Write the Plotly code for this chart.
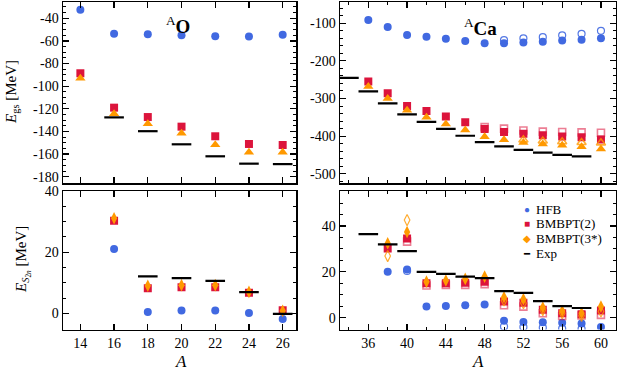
import plotly.graph_objects as go

FONT = "Liberation Serif, DejaVu Serif, Times New Roman, serif"
BLUE = "#4169E1"
RED = "#DC143C"
ORANGE = "#FF9900"
RED_OPEN = "rgba(220,20,60,0.55)"
BLUE_OPEN = "rgba(65,105,225,0.9)"
ORANGE_OPEN = "rgba(255,153,0,0.8)"

# ---------------- Oxygen ----------------
A_O = [14, 16, 18, 20, 22, 24, 26]
O_egs_hfb = [-32.4, -53.6, -54.2, -55.0, -55.9, -56.2, -54.5]
O_egs_b2 = [-88.6, -119.0, -127.3, -135.8, -144.3, -151.1, -152.0]
O_egs_b3 = [-93.0, -124.4, -133.2, -141.7, -151.7, -158.5, -158.5]
A_O_exp = [16, 18, 20, 22, 24, 26]
O_egs_exp = [-127.6, -139.8, -151.4, -162.0, -168.5, -168.9]

A_O_s2n = [16, 18, 20, 22, 24, 26]
O_s2n_hfb = [21.0, 0.4, 0.9, 0.9, 0.1, -1.9]
O_s2n_b2 = [30.3, 8.2, 8.5, 8.5, 6.7, 1.0]
O_s2n_b3 = [31.1, 9.0, 9.2, 9.2, 7.0, 0.8]
A_O_s2n_exp = [18, 20, 22, 24, 26]
O_s2n_exp = [12.1, 11.5, 10.6, 6.9, -0.2]

# ---------------- Calcium ----------------
A_Ca = [36, 38, 40, 42, 44, 46, 48, 50, 52, 54, 56, 58, 60]
Ca_egs_hfb = [-91, -110, -131, -136, -141, -147, -153, -153, -151, -149, -146, -144, -140]
A_Ca_hfb_open = [50, 52, 54, 56, 58, 60]
Ca_egs_hfb_open = [-145, -140, -137, -132, -128, -120]
Ca_egs_b2 = [-255, -286, -320, -333, -348, -363, -381, -389, -394, -398, -401, -403, -409]
A_Ca_b2_open = [48, 50, 52, 54, 56, 58, 60]
Ca_egs_b2_open = [-376, -380, -385, -388, -389, -390, -391]
Ca_egs_b3 = [-268, -300, -331, -350, -368, -384, -402, -410, -417, -421, -424, -428, -434]
A_Ca_b3_open = [52, 54, 56, 58, 60]
Ca_egs_b3_open = [-410, -413, -415, -417, -418]
A_Ca_exp = [34, 36, 38, 40, 42, 44, 46, 48, 50, 52, 54, 56, 58]
Ca_egs_exp = [-245, -281, -313, -342, -362, -381, -399, -416, -427.5, -436.6, -444, -450, -454]

A_Ca_s2n = [38, 40, 42, 44, 46, 48, 50, 52, 54, 56, 58, 60]
Ca_s2n_hfb = [20.0, 21.0, 4.8, 5.1, 5.4, 5.7, -1.4, -1.9, -2.0, -2.3, -2.6, -4.1]
A_Ca_s2n_hfb_open = [40, 50, 52, 54, 56, 58]
Ca_s2n_hfb_open = [20.4, -3.9, -4.1, -4.4, -4.8, -4.9]
Ca_s2n_b2 = [30.2, 34.6, 15.0, 15.0, 15.2, 15.7, 7.0, 6.5, 3.4, 1.9, 1.5, 3.1]
A_Ca_s2n_b2_open = [40, 42, 44, 46, 48, 50, 52, 54, 56, 58, 60]
Ca_s2n_b2_open = [33.2, 14.0, 14.3, 14.3, 14.6, 5.4, 4.8, 1.9, 0.7, 0.9, 1.2]
Ca_s2n_b3 = [32.5, 37.4, 15.7, 16.2, 16.9, 17.9, 8.9, 8.0, 4.4, 2.9, 1.9, 4.8]
A_Ca_s2n_b3_open = [38, 40, 50, 52, 54, 56, 58, 60]
Ca_s2n_b3_open = [26.9, 42.6, 7.5, 6.3, 3.3, 1.9, 0.8, 2.7]
A_Ca_s2n_exp = [36, 38, 40, 42, 44, 46, 48, 50, 52, 54, 56, 58]
Ca_s2n_exp = [36.5, 32.0, 29.0, 20.0, 19.1, 17.9, 17.2, 11.6, 10.8, 7.2, 5.0, 4.2]

# ---------------- ticks / legend ----------------
O_A_ticks = [14, 16, 18, 20, 22, 24, 26]
Ca_A_ticks = [36, 40, 44, 48, 52, 56, 60]
O_egs_ticks = [-180, -160, -140, -120, -100, -80, -60, -40]
Ca_egs_ticks = [-500, -400, -300, -200, -100]
S2n_ticks = [0, 20, 40]
legend_names = ["HFB", "BMBPT(2)", "BMBPT(3*)", "Exp"]
legend_glyphs = ["\u25CF", "\u25A0", "\u25C6", "\u2501"]
legend_colors = [BLUE, RED, ORANGE, "black"]


def lab(v):
    return [str(t) for t in v]


fig = go.Figure()


def add(x, y, xa, ya, name, symbol, color, size, open_=False, lw=1.2):
    if symbol == "line-ew":
        marker = dict(symbol=symbol, size=size, line=dict(color=color, width=2.2))
    elif open_:
        marker = dict(symbol=symbol + "-open", size=size, color=color, line=dict(width=lw))
    else:
        marker = dict(symbol=symbol, size=size, color=color, line=dict(width=0))
    fig.add_trace(go.Scatter(x=x, y=y, xaxis=xa, yaxis=ya, mode="markers", name=name,
                             marker=marker, showlegend=False))


# O top
add(A_O, O_egs_hfb, "x", "y", "HFB", "circle", BLUE, 8)
add(A_O, O_egs_b2, "x", "y", "BMBPT(2)", "square", RED, 8)
add(A_O, O_egs_b3, "x", "y", "BMBPT(3*)", "triangle-up", ORANGE, 9)
add(A_O_exp, O_egs_exp, "x", "y", "Exp", "line-ew", "black", 14)
# Ca top
add(A_Ca, Ca_egs_hfb, "x2", "y2", "HFB", "circle", BLUE, 8)
add(A_Ca_hfb_open, Ca_egs_hfb_open, "x2", "y2", "HFB", "circle", BLUE_OPEN, 7, open_=True)
add(A_Ca_b2_open, Ca_egs_b2_open, "x2", "y2", "BMBPT(2)", "square", RED_OPEN, 7, open_=True, lw=1.6)
add(A_Ca, Ca_egs_b2, "x2", "y2", "BMBPT(2)", "square", RED, 8)
add(A_Ca_b3_open, Ca_egs_b3_open, "x2", "y2", "BMBPT(3*)", "triangle-up", ORANGE_OPEN, 8, open_=True, lw=1.6)
add(A_Ca, Ca_egs_b3, "x2", "y2", "BMBPT(3*)", "triangle-up", ORANGE, 9)
add(A_Ca_exp, Ca_egs_exp, "x2", "y2", "Exp", "line-ew", "black", 14)
# O bottom
add(A_O_s2n, O_s2n_hfb, "x3", "y3", "HFB", "circle", BLUE, 8)
add(A_O_s2n, O_s2n_b2, "x3", "y3", "BMBPT(2)", "square", RED, 8)
add(A_O_s2n, O_s2n_b3, "x3", "y3", "BMBPT(3*)", "diamond-tall", ORANGE, 9)
add(A_O_s2n_exp, O_s2n_exp, "x3", "y3", "Exp", "line-ew", "black", 14)
# Ca bottom
add(A_Ca_s2n, Ca_s2n_hfb, "x4", "y4", "HFB", "circle", BLUE, 8)
add(A_Ca_s2n_hfb_open, Ca_s2n_hfb_open, "x4", "y4", "HFB", "circle", BLUE_OPEN, 7, open_=True)
add(A_Ca_s2n_b2_open, Ca_s2n_b2_open, "x4", "y4", "BMBPT(2)", "square", RED_OPEN, 7, open_=True, lw=1.6)
add(A_Ca_s2n, Ca_s2n_b2, "x4", "y4", "BMBPT(2)", "square", RED, 8)
add(A_Ca_s2n_b3_open, Ca_s2n_b3_open, "x4", "y4", "BMBPT(3*)", "diamond-tall", ORANGE_OPEN, 8, open_=True)
add(A_Ca_s2n, Ca_s2n_b3, "x4", "y4", "BMBPT(3*)", "diamond-tall", ORANGE, 9)
add(A_Ca_s2n_exp, Ca_s2n_exp, "x4", "y4", "Exp", "line-ew", "black", 14)

W, H = 623, 374
dO = [63 / W, 296 / W]
dCa = [340 / W, 615.5 / W]
dTop = [1 - 183 / H, 1 - 2 / H]
dBot = [1 - 329.5 / H, 1 - 191 / H]

common = dict(showline=True, linecolor="black", linewidth=1.5, mirror="ticks", ticks="inside",
              ticklen=6, tickwidth=1.2, tickcolor="black", showgrid=False, zeroline=False,
              automargin=False, tickfont=dict(family=FONT, size=14, color="black"))


def minor(d, t0=None):
    m = dict(ticks="inside", ticklen=3, tickwidth=1, tickcolor="black", dtick=d, showgrid=False)
    if t0 is not None:
        m["tick0"] = t0
    return m


fig.update_layout(
    template="none",
    width=W, height=H, margin=dict(l=0, r=0, t=0, b=0, pad=0),
    paper_bgcolor="white", plot_bgcolor="white", showlegend=False,
    font=dict(family=FONT, size=14, color="black"),
    xaxis=dict(domain=dO, anchor="y", range=[12.97, 26.79], tickmode="array", tickvals=O_A_ticks,
               showticklabels=False, **common),
    yaxis=dict(domain=dTop, anchor="x", range=[-185.6, -25.6], tickmode="array", tickvals=O_egs_ticks,
               ticktext=lab(O_egs_ticks), minor=minor(5), **common),
    xaxis2=dict(domain=dCa, anchor="y2", range=[33.08, 61.5], tickmode="array", tickvals=Ca_A_ticks,
                showticklabels=False, minor=minor(2, 34), **common),
    yaxis2=dict(domain=dTop, anchor="x2", range=[-524.7, -43.4], tickmode="array", tickvals=Ca_egs_ticks,
                ticktext=lab(Ca_egs_ticks), minor=minor(20), **common),
    xaxis3=dict(domain=dO, anchor="y3", range=[12.97, 26.79], tickmode="array", tickvals=O_A_ticks,
                ticktext=lab(O_A_ticks), **common),
    yaxis3=dict(domain=dBot, anchor="x3", range=[-5.3, 40], tickmode="array", tickvals=S2n_ticks,
                ticktext=lab(S2n_ticks), minor=minor(5), **common),
    xaxis4=dict(domain=dCa, anchor="y4", range=[33.08, 61.5], tickmode="array", tickvals=Ca_A_ticks,
                ticktext=lab(Ca_A_ticks), minor=minor(2, 34), **common),
    yaxis4=dict(domain=dBot, anchor="x4", range=[-5.2, 55.3], tickmode="array", tickvals=S2n_ticks,
                ticktext=lab(S2n_ticks), minor=minor(5), **common),
)

ann = [
    dict(x=178 / W, y=1 - 25 / H, text="<sup>A</sup><b>O</b>", font=dict(size=19)),
    dict(x=480 / W, y=1 - 27 / H, text="<sup>A</sup><b>Ca</b>", font=dict(size=19)),
    dict(x=12 / W, y=1 - 92 / H, text="<i>E</i><sub>gs</sub> [MeV]", textangle=-90, font=dict(size=15)),
    dict(x=23 / W, y=1 - 260 / H, text="<i>E</i><sub><i>S</i><sub>2<i>n</i></sub></sub> [MeV]",
         textangle=-90, font=dict(size=15)),
    dict(x=181 / W, y=1 - 361 / H, text="<i>A</i>", font=dict(size=17)),
    dict(x=478 / W, y=1 - 361 / H, text="<i>A</i>", font=dict(size=17)),
]
# legend drawn as text rows in the lower-right panel
leg_y = [209.5, 224, 238.5, 253]
for name, glyph, col, yy in zip(legend_names, legend_glyphs, legend_colors, leg_y):
    ann.append(dict(x=527 / W, y=1 - yy / H, text=glyph, font=dict(size=10, color=col)))
    ann.append(dict(x=535 / W, y=1 - yy / H, text=name, font=dict(size=13), xanchor="left"))

for a in ann:
    a.update(xref="paper", yref="paper", showarrow=False, yanchor="middle", borderpad=0)
    a.setdefault("xanchor", "center")
    a["font"].setdefault("color", "black")
    a["font"]["family"] = FONT
fig.update_layout(annotations=ann)

fig.write_html("out.html", config={"displayModeBar": False, "staticPlot": True},
               post_script="document.body.style.margin='0px';document.body.style.overflow='hidden';")
